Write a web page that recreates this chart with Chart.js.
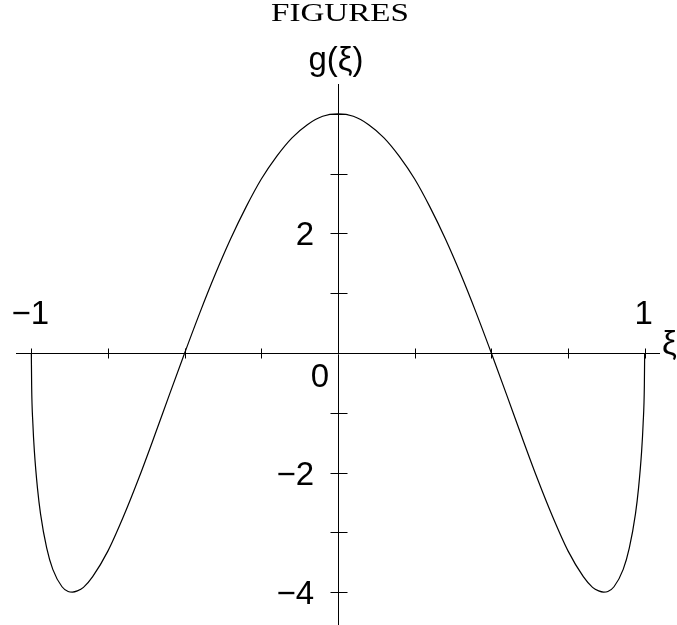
<!DOCTYPE html>
<html>
<head>
<meta charset="utf-8">
<script src="https://cdn.jsdelivr.net/npm/chart.js@4"></script>
<style>
  html, body { margin: 0; padding: 0; background: #fff; }
  canvas { display: block; }
</style>
</head>
<body>
<canvas id="gChart" width="677" height="625"></canvas>
<script>
// values
const xiValues = [-1, -0.999, -0.995, -0.99, -0.98, -0.97, -0.95, -0.93, -0.9, -0.88, -0.866, -0.85, -0.83, -0.8,
  -0.75, -0.7, -0.65, -0.6, -0.55, -0.5, -0.45, -0.4, -0.35, -0.3, -0.25, -0.2, -0.15, -0.1, -0.05,
  0, 0.05, 0.1, 0.15, 0.2, 0.25, 0.3, 0.35, 0.4, 0.45, 0.5, 0.55, 0.6, 0.65, 0.7, 0.75,
  0.8, 0.83, 0.85, 0.866, 0.88, 0.9, 0.93, 0.95, 0.97, 0.98, 0.99, 0.995, 0.999, 1];
const gValues = [0, -0.54, -1.18, -1.65, -2.26, -2.69, -3.26, -3.62, -3.91, -3.99, -4.0, -3.98, -3.92, -3.74,
  -3.31, -2.74, -2.10, -1.41, -0.70, 0, 0.68, 1.32, 1.91, 2.44, 2.91, 3.29, 3.60, 3.82, 3.96,
  4.0, 3.96, 3.82, 3.60, 3.29, 2.91, 2.44, 1.91, 1.32, 0.68, 0, -0.70, -1.41, -2.10, -2.74, -3.31,
  -3.74, -3.92, -3.98, -4.0, -3.99, -3.91, -3.62, -3.26, -2.69, -2.26, -1.65, -1.18, -0.54, 0];

// ticks and their labels
const xTicks = [-1, -0.75, -0.5, -0.25, 0.25, 0.5, 0.75, 1];
const yTicks = [-4, -3, -2, -1, 1, 2, 3, 4];
const xTickLabelValues = [-1, 1];
const xTickLabels = ['\u22121', '1'];
const yTickLabelValues = [-4, -2, 2];
const yTickLabels = ['\u22124', '\u22122', '2'];
const originLabel = '0';
const xAxisTitle = '\u03BE';
const yAxisTitle = 'g(\u03BE)';
const pageHeader = 'FIGURES';

const points = xiValues.map((x, i) => ({ x: x, y: gValues[i] }));

// draws the crossing axes, ticks and all the text
const axesPlugin = {
  id: 'crossAxes',
  beforeDatasetsDraw(chart) {
    const c = chart.ctx;
    const xs = chart.scales.x;
    const ys = chart.scales.y;
    const x0 = Math.round(xs.getPixelForValue(0)) + 0.5;
    const y0 = Math.round(ys.getPixelForValue(0)) + 0.5;
    c.save();
    c.strokeStyle = '#000';
    c.lineWidth = 1;
    c.beginPath();
    // x axis
    c.moveTo(xs.left, y0);
    c.lineTo(xs.right, y0);
    // y axis
    c.moveTo(x0, ys.top);
    c.lineTo(x0, chart.height);
    xTicks.forEach(v => {
      const px = Math.round(xs.getPixelForValue(v)) + 0.5;
      c.moveTo(px, y0 - 5);
      c.lineTo(px, y0 + 5);
    });
    yTicks.forEach(v => {
      const py = Math.round(ys.getPixelForValue(v)) + 0.5;
      c.moveTo(x0 - 8, py);
      c.lineTo(x0 + 9, py);
    });
    c.stroke();
    c.restore();
  },
  afterDraw(chart) {
    const c = chart.ctx;
    const xs = chart.scales.x;
    const ys = chart.scales.y;
    const x0 = xs.getPixelForValue(0);
    const y0 = ys.getPixelForValue(0);
    c.save();
    c.fillStyle = '#000';
    c.font = '33px "Liberation Sans", Arial, sans-serif';

    c.textAlign = 'center';
    c.textBaseline = 'alphabetic';
    xTickLabelValues.forEach((v, i) => {
      c.fillText(xTickLabels[i], xs.getPixelForValue(v) - 1, y0 - 29);
    });

    c.textAlign = 'right';
    yTickLabelValues.forEach((v, i) => {
      c.fillText(yTickLabels[i], x0 - 24, ys.getPixelForValue(v) + 12);
    });

    c.textAlign = 'center';
    c.fillText(originLabel, x0 - 18, y0 + 34);

    c.textAlign = 'left';
    c.fillText(xAxisTitle, xs.right + 2, y0 + 1);

    c.textAlign = 'center';
    c.fillText(yAxisTitle, x0 - 2, ys.top - 14);

    // header line in serif, stretched to the width it has in the picture
    c.font = '26px "Liberation Serif", "Times New Roman", serif';
    const w = c.measureText(pageHeader).width;
    const k = 138 / w;
    c.translate(340, 21);
    c.scale(k, 1);
    c.fillText(pageHeader, 0, 0);
    c.restore();
  }
};

const ctx = document.getElementById('gChart').getContext('2d');
const gChart = new Chart(ctx, {
  type: 'scatter',
  data: {
    datasets: [{
      data: points,
      showLine: true,
      borderColor: '#000',
      borderWidth: 1.2,
      pointRadius: 0,
      cubicInterpolationMode: 'monotone',
      fill: false
    }]
  },
  options: {
    responsive: false,
    animation: false,
    devicePixelRatio: 1,
    layout: { padding: { left: 16, right: 17, top: 84, bottom: 0 } },
    plugins: {
      legend: { display: false },
      tooltip: { enabled: false },
      title: { display: false }
    },
    scales: {
      x: { type: 'linear', min: -1.05, max: 1.05, display: false },
      y: { type: 'linear', min: -4.55, max: 4.5, display: false }
    }
  },
  plugins: [axesPlugin]
});
</script>
</body>
</html>
